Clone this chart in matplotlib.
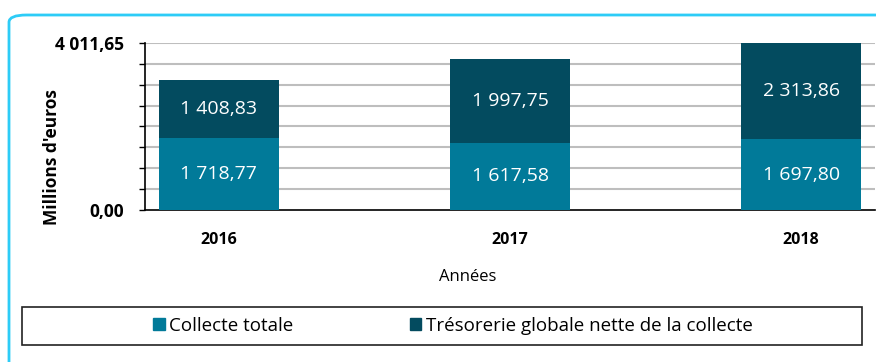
import matplotlib.pyplot as plt
from matplotlib.patches import FancyBboxPatch, Rectangle, Patch
from matplotlib.ticker import FixedLocator

plt.rcParams['font.family'] = ['Open Sans', 'DejaVu Sans']

# Données (millions d'euros)
annees = ['2016', '2017', '2018']
collecte_totale = [1718.77, 1617.58, 1697.80]
tresorerie_nette = [1408.83, 1997.75, 2313.86]
y_max = 4011.65

couleur_collecte = '#017A99'
couleur_tresorerie = '#034B5F'


def fmt(v):
    # format français : espace pour les milliers, virgule décimale
    return f"{v:,.2f}".replace(',', ' ').replace('.', ',')


fig = plt.figure(figsize=(8.76, 3.62), dpi=100)
W, H = 876, 362

# cadre arrondi bleu clair (déborde à droite et en bas)
cadre = FancyBboxPatch((9 / W, -0.05), 1.05, 1 - 15 / H + 0.05,
                       boxstyle="round,pad=0,rounding_size=0.02",
                       transform=fig.transFigure, fill=False,
                       edgecolor='#2DCCF7', linewidth=2, clip_on=False)
fig.patches.append(cadre)

ax = fig.add_axes([145 / W, 1 - 210 / H, 730 / W, 167 / H])
x = range(len(annees))
largeur = 120 / 291

ax.bar(x, collecte_totale, width=largeur, color=couleur_collecte, zorder=3)
ax.bar(x, tresorerie_nette, width=largeur, bottom=collecte_totale,
       color=couleur_tresorerie, zorder=3)

for i in x:
    ax.text(i, collecte_totale[i] / 2, fmt(collecte_totale[i]), ha='center', va='center',
            color='white', fontsize=14, zorder=4)
    ax.text(i, collecte_totale[i] + tresorerie_nette[i] / 2, fmt(tresorerie_nette[i]),
            ha='center', va='center', color='white', fontsize=14, zorder=4)

ax.set_xlim(-0.254, 2.254)
ax.set_ylim(0, y_max)

# grille horizontale tous les huitièmes
pas = y_max / 8
ax.yaxis.set_major_locator(FixedLocator([0, y_max]))
ax.yaxis.set_minor_locator(FixedLocator([pas * k for k in range(1, 8)]))
ax.set_yticklabels([fmt(0), fmt(y_max)], fontsize=12.5, fontweight='bold')
ax.tick_params(axis='y', which='both', length=4, width=1, pad=11)
for k in range(1, 9):
    ax.axhline(pas * k, color='#BEBEBE', linewidth=1.5, zorder=1)

ax.set_xticks(list(x))
ax.set_xticklabels(annees, fontsize=11.5, fontweight='bold')
ax.tick_params(axis='x', length=0, pad=16)

for s in ['top', 'right']:
    ax.spines[s].set_visible(False)
ax.spines['left'].set_linewidth(1.2)
ax.spines['bottom'].set_linewidth(1.2)

fig.text(52 / W, 1 - 157 / H, "Millions d'euros", rotation=90, ha='center', va='center',
         fontsize=12.5, fontweight='bold')
fig.text(468 / W, 1 - 277 / H, "Années", ha='center', va='center', fontsize=12)

# boîte de légende
fig.patches.append(Rectangle((22 / W, 1 - 345 / H), 840 / W, 38 / H,
                             transform=fig.transFigure, fill=False,
                             edgecolor='#222222', linewidth=1.2))
poignees = [Patch(color=couleur_collecte, label='Collecte totale'),
            Patch(color=couleur_tresorerie, label='Trésorerie globale nette de la collecte')]
fig.legend(handles=poignees, loc='center', bbox_to_anchor=(453 / W, 1 - 326 / H),
           ncol=2, frameon=False, fontsize=13.5, handlelength=0.6, handleheight=0.6,
           handletextpad=0.25, columnspacing=6.2)

fig.savefig('out.png', dpi=100)
